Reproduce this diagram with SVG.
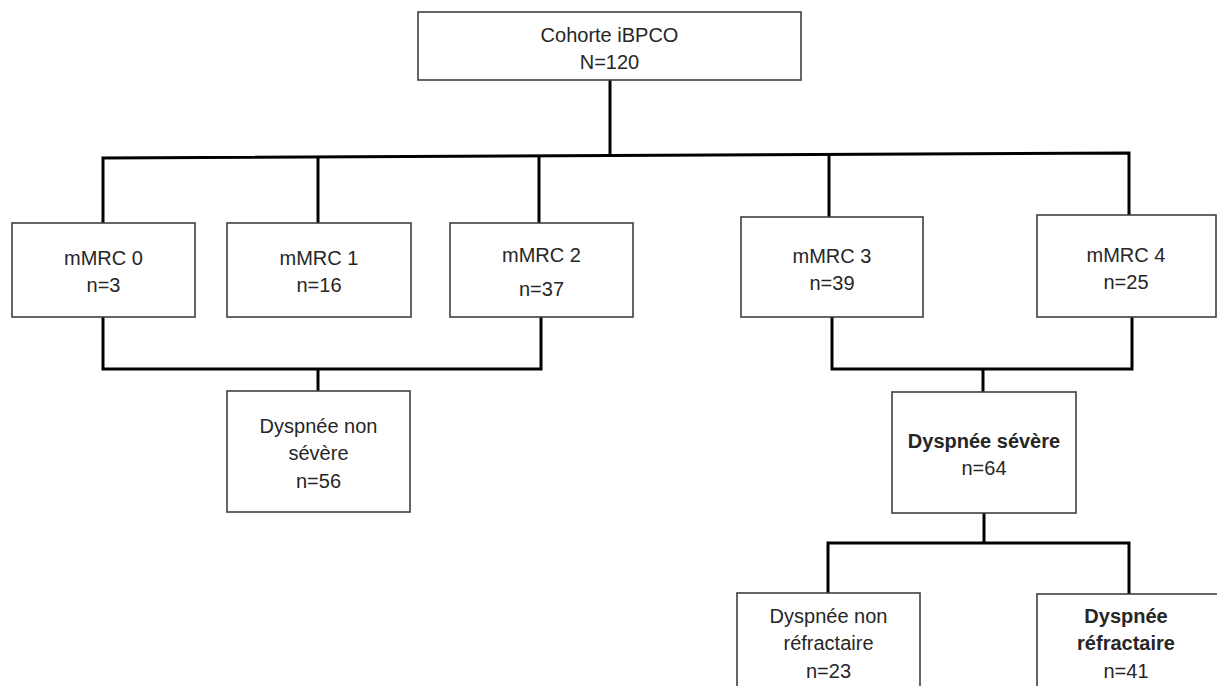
<svg xmlns="http://www.w3.org/2000/svg" width="1217" height="686" viewBox="0 0 1217 686">
<style>
.box{fill:#fff;stroke:#404040;stroke-width:1.6}
.t{font-family:"Liberation Sans",Arial,sans-serif;font-size:20px;fill:#262626;text-anchor:middle}
.b{font-weight:bold}
.c{fill:none;stroke:#000;stroke-width:3;stroke-linejoin:miter}
</style>
<rect width="1217" height="686" fill="#fff"/>
<g id="connectors">
<path class="c" d="M610,80 V155.5"/>
<path class="c" d="M103,223 V158 L1129,153 V216"/>
<path class="c" d="M318,157 V223"/>
<path class="c" d="M539,156 V223"/>
<path class="c" d="M829,154.5 V217"/>
<path class="c" d="M103,317 V369 H541 V317"/>
<path class="c" d="M318,369 V391"/>
<path class="c" d="M832,317 V369 H1132 V317"/>
<path class="c" d="M983,369 V392"/>
<path class="c" d="M984,513 V543"/>
<path class="c" d="M828,593 V543 H1129 V594"/>
</g>
<g id="cohorte">
<rect class="box" x="418" y="12" width="383" height="68"/>
<text class="t" x="609.5" y="42">Cohorte iBPCO</text>
<text class="t" x="609.5" y="69">N=120</text>
</g>
<g id="mmrc0">
<rect class="box" x="12" y="223" width="183" height="94"/>
<text class="t" x="103.5" y="265">mMRC 0</text>
<text class="t" x="103.5" y="292">n=3</text>
</g>
<g id="mmrc1">
<rect class="box" x="227" y="223" width="184" height="94"/>
<text class="t" x="319" y="265">mMRC 1</text>
<text class="t" x="319" y="292">n=16</text>
</g>
<g id="mmrc2">
<rect class="box" x="450" y="223" width="183" height="94"/>
<text class="t" x="541.5" y="262">mMRC 2</text>
<text class="t" x="541.5" y="296">n=37</text>
</g>
<g id="mmrc3">
<rect class="box" x="741" y="217" width="182" height="100"/>
<text class="t" x="832" y="263">mMRC 3</text>
<text class="t" x="832" y="290">n=39</text>
</g>
<g id="mmrc4">
<rect class="box" x="1037" y="215" width="179" height="102"/>
<text class="t" x="1126" y="262">mMRC 4</text>
<text class="t" x="1126" y="289">n=25</text>
</g>
<g id="dyspnee-non-severe">
<rect class="box" x="227" y="391" width="183" height="121"/>
<text class="t" x="318.5" y="433">Dyspnée non</text>
<text class="t" x="318.5" y="460">sévère</text>
<text class="t" x="318.5" y="488">n=56</text>
</g>
<g id="dyspnee-severe">
<rect class="box" x="892" y="392" width="184" height="121"/>
<text class="t b" x="984" y="448">Dyspnée sévère</text>
<text class="t" x="984" y="475">n=64</text>
</g>
<g id="dyspnee-non-refractaire">
<rect class="box" x="737" y="593" width="183" height="100"/>
<text class="t" x="828.5" y="623">Dyspnée non</text>
<text class="t" x="828.5" y="650">réfractaire</text>
<text class="t" x="828.5" y="678">n=23</text>
</g>
<g id="dyspnee-refractaire">
<rect class="box" x="1037" y="594" width="184" height="100"/>
<text class="t b" x="1126" y="623">Dyspnée</text>
<text class="t b" x="1126" y="650">réfractaire</text>
<text class="t" x="1126" y="678">n=41</text>
</g>
</svg>
